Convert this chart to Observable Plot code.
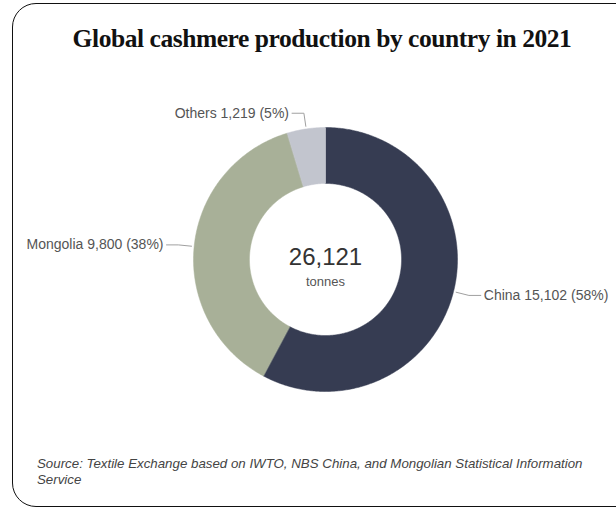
<!DOCTYPE html>
<html>
<head>
<meta charset="utf-8">
<script src="https://cdn.jsdelivr.net/npm/d3@7"></script>
<script src="https://cdn.jsdelivr.net/npm/@observablehq/plot@0.6"></script>
<style>
  html, body { margin: 0; padding: 0; background: #fff; }
  #wrap { position: relative; width: 616px; height: 508px; overflow: hidden; background: #fff; }
  #frame { position: absolute; left: 12px; top: 3px; width: 640px; height: 504px; border: 1.5px solid #111; border-radius: 24px; box-sizing: border-box; }
  #title { position: absolute; left: 14px; top: 24px; width: 616px; text-align: center; font-family: "Liberation Serif", "DejaVu Serif", serif; font-weight: bold; font-size: 25.5px; letter-spacing: -0.45px; color: #111; }
  #chart { position: absolute; left: 0; top: 80px; }
  #source { position: absolute; left: 37px; top: 456px; width: 565px; font-family: "Liberation Sans", Arial, sans-serif; font-style: italic; font-size: 13.3px; line-height: 16px; color: #444; }
</style>
</head>
<body>
<div id="wrap">
  <div id="frame"></div>
  <div id="title">Global cashmere production by country in 2021</div>
  <div id="chart"></div>
  <div id="source">Source: Textile Exchange based on IWTO, NBS China, and Mongolian Statistical Information Service</div>
</div>
<script>
const categories = ["China", "Mongolia", "Others"];
const values = [15102, 9800, 1219];
const colors = ["#363c52", "#a8b098", "#c2c5ce"];
const unitLabel = "tonnes";

const rows = categories.map((name, i) => ({name, value: values[i]}));
const total = d3.sum(values);
const fmt = d3.format(",");

const outerR = 1, innerR = 0.576;
const arcs = d3.pie().sort(null).value(d => d.value)(rows);

// slice polygons (angle 0 at top, clockwise)
const slicePts = [];
for (const a of arcs) {
  const n = Math.max(4, Math.ceil((a.endAngle - a.startAngle) / 0.01));
  for (let k = 0; k <= n; k++) {
    const t = a.startAngle + (a.endAngle - a.startAngle) * k / n;
    slicePts.push({name: a.data.name, x: outerR * Math.sin(t), y: outerR * Math.cos(t)});
  }
  for (let k = n; k >= 0; k--) {
    const t = a.startAngle + (a.endAngle - a.startAngle) * k / n;
    slicePts.push({name: a.data.name, x: innerR * Math.sin(t), y: innerR * Math.cos(t)});
  }
}

// leader lines and labels
const leaderPts = [];
const labels = [];
for (const a of arcs) {
  const m = (a.startAngle + a.endAngle) / 2;
  const side = Math.sin(m) >= 0 ? 1 : -1;
  const p0 = {x: 1.02 * Math.sin(m), y: 1.02 * Math.cos(m)};
  const p1 = {x: 1.12 * Math.sin(m), y: 1.12 * Math.cos(m)};
  const p2 = {x: p1.x + side * 0.09, y: p1.y};
  [p0, p1, p2].forEach(p => leaderPts.push({name: a.data.name, ...p}));
  const pct = Math.round(a.data.value / total * 100);
  labels.push({side, x: p2.x, y: p2.y, text: `${a.data.name} ${fmt(a.data.value)} (${pct}%)`});
}

const W = 616, H = 360, pxPerUnit = 132, cx = 325, cy = 179;
const font = "Liberation Sans, Arial, sans-serif";
const chart = Plot.plot({
  width: W,
  height: H,
  margin: 0,
  style: {background: "transparent", overflow: "visible"},
  x: {domain: [-cx / pxPerUnit, (W - cx) / pxPerUnit], axis: null},
  y: {domain: [-(H - cy) / pxPerUnit, cy / pxPerUnit], axis: null},
  color: {domain: categories, range: colors},
  marks: [
    Plot.line(slicePts, {x: "x", y: "y", z: "name", fill: "name", stroke: "name", strokeWidth: 0.5, curve: "linear-closed"}),
    Plot.line(leaderPts, {x: "x", y: "y", z: "name", stroke: "#a0a0a0", strokeWidth: 1}),
    Plot.text(labels.filter(d => d.side < 0), {x: "x", y: "y", text: "text", textAnchor: "end", dx: -3, fontSize: 14, fill: "#555", fontFamily: font}),
    Plot.text(labels.filter(d => d.side > 0), {x: "x", y: "y", text: "text", textAnchor: "start", dx: 3, fontSize: 14, fill: "#555", fontFamily: font}),
    Plot.text([fmt(total)], {x: 0, y: 0, text: d => d, dy: -2, fontSize: 24, fill: "#333", fontFamily: font}),
    Plot.text([unitLabel], {x: 0, y: 0, text: d => d, dy: 22, fontSize: 13, fill: "#555", fontFamily: font})
  ]
});
document.getElementById("chart").appendChild(chart);
</script>
</body>
</html>
